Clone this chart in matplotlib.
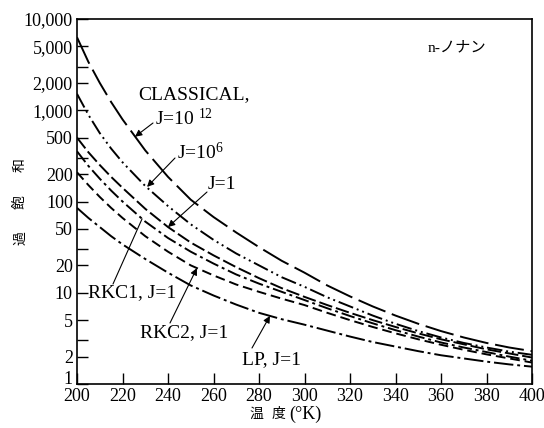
import numpy as np
import matplotlib
matplotlib.use("Agg")
import matplotlib.pyplot as plt

plt.rcParams['font.family'] = ['Liberation Serif', 'Noto Sans CJK JP', 'DejaVu Sans']
plt.rcParams['mathtext.fontset'] = 'custom'
plt.rcParams['mathtext.rm'] = 'Liberation Serif'
plt.rcParams['mathtext.it'] = 'Liberation Serif:italic'

# temperature (K)
T = [200, 205, 210, 215, 220, 230, 240, 250, 260, 270, 280, 290, 300,
     310, 320, 330, 340, 350, 360, 370, 380, 390, 400]

# log10 of supersaturation
log_classical_J1e12 = [3.80, 3.53, 3.30, 3.09, 2.90, 2.56, 2.27, 2.02, 1.83, 1.66, 1.50, 1.35, 1.22,
                       1.08, 0.96, 0.85, 0.75, 0.66, 0.58, 0.51, 0.45, 0.40, 0.36]
log_classical_J1e6 = [3.18, 2.95, 2.75, 2.58, 2.43, 2.17, 1.95, 1.75, 1.58, 1.43, 1.30, 1.17, 1.065,
                      0.95, 0.85, 0.75, 0.66, 0.58, 0.51, 0.45, 0.40, 0.355, 0.32]
log_classical_J1 = [2.70, 2.54, 2.40, 2.27, 2.15, 1.92, 1.72, 1.55, 1.41, 1.28, 1.16, 1.05, 0.955,
                    0.865, 0.78, 0.70, 0.625, 0.555, 0.49, 0.435, 0.38, 0.335, 0.29]
log_rkc1_J1 = [2.55, 2.39, 2.25, 2.12, 2.00, 1.78, 1.60, 1.45, 1.32, 1.20, 1.10, 1.01, 0.92,
               0.83, 0.745, 0.665, 0.59, 0.52, 0.455, 0.40, 0.35, 0.30, 0.255]
log_rkc2_J1 = [2.32, 2.18, 2.05, 1.93, 1.82, 1.62, 1.45, 1.30, 1.19, 1.09, 1.01, 0.935, 0.865,
               0.78, 0.70, 0.625, 0.555, 0.49, 0.43, 0.375, 0.325, 0.28, 0.235]
log_lp_J1 = [1.93, 1.82, 1.72, 1.62, 1.53, 1.37, 1.22, 1.08, 0.97, 0.87, 0.78, 0.71, 0.65,
             0.585, 0.52, 0.46, 0.41, 0.36, 0.315, 0.28, 0.245, 0.215, 0.19]

x_ticks = [200, 220, 240, 260, 280, 300, 320, 340, 360, 380, 400]
y_ticks = [1, 2, 5, 10, 20, 50, 100, 200, 500, 1000, 2000, 5000, 10000]
y_tick_labels = ['1', '2', '5', '10', '20', '50', '100', '200', '500',
                 '1,000', '2,000', '5,000', '10,000']
y_minor = [3, 30, 300, 3000]

W, H = 544, 428
fig = plt.figure(figsize=(W / 100, H / 100), dpi=100)
L, R, B, TOP = 77, 532, 384, 19
ax = fig.add_axes([L / W, 1 - B / H, (R - L) / W, (B - TOP) / H])

series = [
    (log_classical_J1e12, (0, (15, 3.5))),
    (log_classical_J1e6, (0, (8, 2, 1, 2, 1, 2))),
    (log_classical_J1, (0, (7, 2))),
    (log_rkc1_J1, (0, (7, 2, 1.5, 2))),
    (log_rkc2_J1, (0, (5, 2.5))),
    (log_lp_J1, (0, (10, 2, 1.5, 2))),
]
for vals, ls in series:
    ax.plot(T, 10 ** np.array(vals), color='black', lw=1.4, linestyle=ls)

ax.set_yscale('log')
ax.set_xlim(200, 400)
ax.set_ylim(1, 10000)
ax.set_xticks(x_ticks)
ax.set_xticklabels([str(v) for v in x_ticks])
ax.set_yticks(y_ticks)
ax.set_yticklabels(y_tick_labels)
ax.set_yticks(y_minor, minor=True)
ax.yaxis.set_minor_formatter(matplotlib.ticker.NullFormatter())
ax.tick_params(axis='both', which='both', direction='in', length=8, width=1,
               labelsize=13, top=False, right=False)
ax.tick_params(axis='y', pad=3)
ax.tick_params(axis='x', pad=3)
ax.get_yticklabels()[0].set_verticalalignment('baseline')
for s in ax.spines.values():
    s.set_linewidth(1.2)


def fp(x, y):
    return (x / W, 1 - y / H)


# axis labels
for ch, yy in zip(['過', '飽', '和'], [238, 202, 165]):
    fig.text(*fp(20, yy), ch, rotation=90, ha='center', va='center', fontsize=10,
             family=['Noto Sans CJK JP'])
fig.text(*fp(256, 414), '温', ha='center', va='center', fontsize=10,
         family=['Noto Sans CJK JP'])
fig.text(*fp(278, 414), '度', ha='center', va='center', fontsize=10,
         family=['Noto Sans CJK JP'])
fig.text(*fp(289, 414), '(°K)', ha='left', va='center', fontsize=13)
fig.text(*fp(457, 48), 'n-ノナン', ha='center', va='center', fontsize=11)

# curve labels
labels = [
    ('CLASSICAL,', 138, 95),
    ('J=10 $^{12}$', 155, 118),
    ('J=10$^{6}$', 177, 152),
    ('J=1', 208, 185),
    ('RKC1, J=1', 88, 293),
    ('RKC2, J=1', 140, 333),
    ('LP, J=1', 242, 360),
]
for txt, x, y in labels:
    fig.text(*fp(x, y), txt, ha='left', va='center', fontsize=14)

# arrows: (start in pixels) -> (point on curve in data)
arrows = [
    ((153, 123), (225.5, 10 ** 2.71), '-|>'),
    ((175, 158), (230.8, 10 ** 2.16), '-|>'),
    ((207, 192), (240.0, 10 ** 1.72), '-|>'),
    ((113, 284), (228.6, 10 ** 1.81), '-'),
    ((170, 323), (252.7, 10 ** 1.27), '-|>'),
    ((252, 348), (284.8, 10 ** 0.746), '-|>'),
]
for (sx, sy), tip, style in arrows:
    ax.annotate('', xy=tip, xycoords='data', xytext=(sx, H - sy),
                textcoords='figure pixels',
                arrowprops=dict(arrowstyle=style, color='black', lw=0.8,
                                mutation_scale=10, shrinkA=0, shrinkB=0))

fig.savefig('out.png', dpi=100)
